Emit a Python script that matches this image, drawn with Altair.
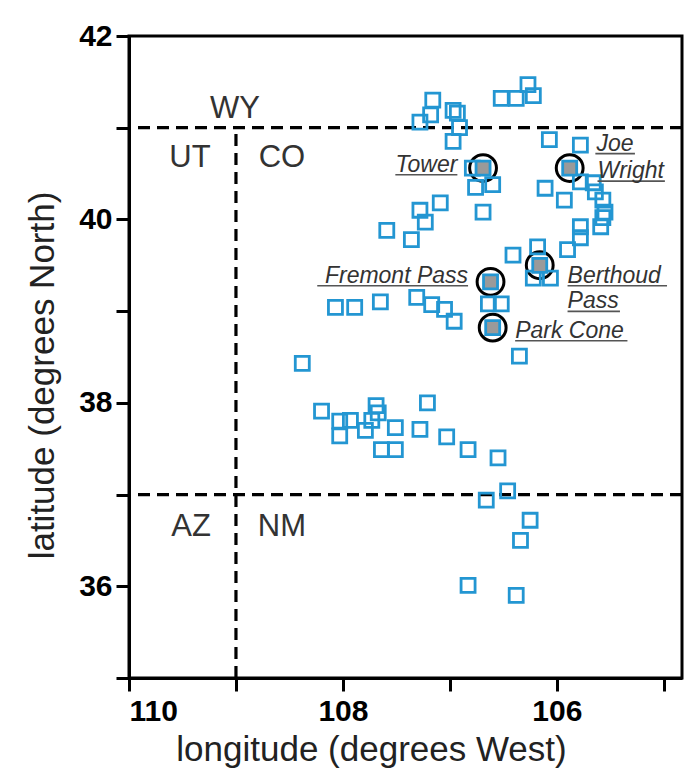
import altair as alt
import pandas as pd

# ---- data ----
sq_lon = [107.16, 107.28, 107.18, 106.97, 106.93, 106.91, 106.97, 106.52, 106.38, 106.27,
          106.22, 106.07, 105.78, 106.79, 106.76, 106.60, 106.69, 106.11, 105.93, 105.78,
          105.66, 105.64, 105.57, 105.55, 105.57, 105.59, 105.78, 105.78, 105.90, 106.18,
          106.41, 106.22, 106.06, 107.28, 107.09, 107.23, 107.59, 107.36, 106.64, 106.52,
          106.35, 108.07, 107.89, 107.65, 107.31, 107.17, 107.05, 106.96, 108.38, 108.20,
          108.03, 107.93, 108.03, 107.79, 107.69, 107.67, 107.73, 107.64, 107.51, 107.51,
          107.21, 107.28, 107.03, 106.83, 106.55, 106.66, 106.46, 106.25, 106.34, 106.83,
          106.38]
sq_lat = [41.30, 41.06, 41.14, 41.19, 41.16, 41.00, 40.85, 41.32, 41.32, 41.47,
          41.35, 40.87, 40.81, 40.56, 40.35, 40.38, 40.08, 40.34, 40.21, 40.41,
          40.40, 40.30, 40.21, 40.08, 40.02, 39.92, 39.92, 39.80, 39.67, 39.70,
          39.61, 39.36, 39.36, 40.10, 40.18, 39.97, 39.88, 39.78, 39.08, 39.08,
          38.51, 39.04, 39.04, 39.10, 39.15, 39.07, 39.02, 38.89, 38.43, 37.91,
          37.80, 37.81, 37.64, 37.70, 37.97, 37.89, 37.81, 37.49, 37.49, 37.73,
          38.00, 37.71, 37.63, 37.49, 37.40, 36.94, 37.04, 36.72, 36.50, 36.01,
          35.90]

site_name = ["Tower", "Joe Wright", "Berthoud Pass", "Fremont Pass", "Park Cone"]
site_lon = [106.69, 105.88, 106.16, 106.62, 106.60]
site_lat = [40.56, 40.56, 39.50, 39.32, 38.82]

label_text = ["Tower", "Joe", "Wright", "Fremont Pass", "Berthoud", "Pass", "Park Cone"]
label_lon = [106.93, 105.63, 105.62, 106.83, 105.90, 105.90, 106.39]
label_lat = [40.52, 40.75, 40.45, 39.31, 39.31, 39.03, 38.71]
label_align = ["right", "left", "left", "right", "left", "left", "left"]
underline_start = [107.51, 105.64, 105.62, 108.24, 105.90, 105.90, 106.39]
underline_end = [106.93, 105.27, 104.99, 106.83, 104.97, 105.41, 105.34]

state_name = ["WY", "UT", "CO", "AZ", "NM"]
state_lon = [109.01, 109.43, 108.57, 109.42, 108.57]
state_lat = [41.11, 40.57, 40.57, 36.55, 36.55]

border_lat = [41, 37]
border_lon = [109.0]
border_lat_range = [35, 41]

x_ticks = [110, 109, 108, 107, 106, 105]
y_ticks = [35, 36, 37, 38, 39, 40, 41, 42]

BLUE = "#2396d2"
FONT = "Liberation Sans"

squares = pd.DataFrame({"lon": sq_lon, "lat": sq_lat})
sites = pd.DataFrame({"name": site_name, "lon": site_lon, "lat": site_lat})
labels = pd.DataFrame({"text": label_text, "lon": label_lon, "lat": label_lat,
                       "align": label_align, "u0": underline_start, "u1": underline_end})
states = pd.DataFrame({"name": state_name, "lon": state_lon, "lat": state_lat})
hlines = pd.DataFrame({"lat": border_lat})
vline = pd.DataFrame({"lon": border_lon, "lat0": [border_lat_range[0]], "lat1": [border_lat_range[1]]})

xscale = alt.Scale(domain=[110, 104.83], nice=False, zero=False)
yscale = alt.Scale(domain=[35, 42], nice=False, zero=False)

xaxis = alt.Axis(values=x_ticks, labelExpr="datum.value % 2 == 0 ? datum.label : ''",
                 title="longitude (degrees West)", titleX=242, titleY=82,
                 titleBaseline="alphabetic", titleAnchor="start", titleAlign="center",
                 labelPadding=5)
yaxis = alt.Axis(values=y_ticks, labelExpr="datum.value % 2 == 0 ? datum.label : ''",
                 title="latitude (degrees North)", titleX=-76, titleY=339, titleAngle=270,
                 titleBaseline="alphabetic", titleAlign="center", labelPadding=4)

base_x = alt.X("lon:Q", scale=xscale, axis=xaxis)
base_y = alt.Y("lat:Q", scale=yscale, axis=yaxis)

dash = [12, 7]

h = alt.Chart(hlines).mark_rule(color="black", strokeWidth=3.2, strokeDash=dash).encode(
    y=alt.Y("lat:Q", scale=yscale, axis=yaxis))
v = alt.Chart(vline).mark_rule(color="black", strokeWidth=3.2, strokeDash=dash).encode(
    x=alt.X("lon:Q", scale=xscale, axis=xaxis),
    y=alt.Y("lat0:Q", scale=yscale, axis=yaxis), y2="lat1:Q")

circles = alt.Chart(sites).mark_point(shape="circle", filled=False, color="black",
                                      strokeWidth=3, size=720, opacity=1).encode(x=base_x, y=base_y)

blue_sq = alt.Chart(squares).mark_point(shape="square", filled=False, color=BLUE,
                                        strokeWidth=2.8, size=196, opacity=1).encode(x=base_x, y=base_y)

site_sq = alt.Chart(sites).mark_point(shape="square", filled=True, fill="#9a9a9a", stroke=BLUE,
                                      strokeWidth=2.8, size=196, opacity=1).encode(x=base_x, y=base_y)

lab_r = alt.Chart(labels).transform_filter("datum.align == 'right'").mark_text(
    align="right", baseline="alphabetic", font=FONT, fontStyle="italic", fontSize=23,
    color="#333333").encode(x=base_x, y=base_y, text="text:N")
lab_l = alt.Chart(labels).transform_filter("datum.align == 'left'").mark_text(
    align="left", baseline="alphabetic", font=FONT, fontStyle="italic", fontSize=23,
    color="#333333").encode(x=base_x, y=base_y, text="text:N")
underline = alt.Chart(labels).mark_rule(color="#555555", strokeWidth=1.6, yOffset=3).encode(
    x=alt.X("u0:Q", scale=xscale, axis=xaxis), x2="u1:Q", y=base_y)

state_txt = alt.Chart(states).mark_text(align="center", baseline="alphabetic", font=FONT,
                                        fontSize=31, color="#333333").encode(
    x=base_x, y=base_y, text="name:N")

chart = alt.layer(h, v, circles, blue_sq, site_sq, underline, lab_r, lab_l, state_txt).properties(
    width=553, height=642,
    autosize=alt.AutoSizeParams(type="none"),
    padding={"left": 121, "top": 28, "right": 6, "bottom": 90},
    background="white",
).configure_view(stroke="black", strokeWidth=3).configure_axis(
    grid=False, domainColor="black", domainWidth=3, tickColor="black", tickWidth=3,
    tickSize=13, labelFont=FONT, labelFontWeight="bold", labelFontSize=30, labelColor="black",
    titleFont=FONT, titleFontWeight="normal", titleFontSize=35, titleColor="#222222",
)

chart.save("out.html", embed_options={"renderer": "svg", "actions": False})
